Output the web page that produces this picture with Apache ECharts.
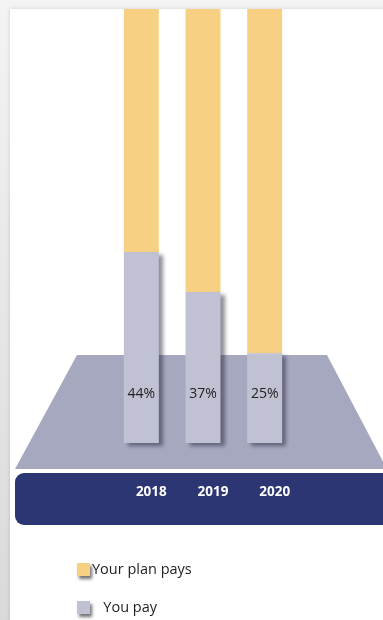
<!DOCTYPE html>
<html>
<head>
<meta charset="utf-8">
<script src="https://cdn.jsdelivr.net/npm/echarts@6/dist/echarts.min.js"></script>
<style>
html,body{margin:0;padding:0;background:#efefef;}
#chart{width:383px;height:620px;}
</style>
</head>
<body>
<div id="chart"></div>
<script>
// Data
var years = ['2018', '2019', '2020'];
var youPay = [44, 34.8, 20.7];          // visual bar heights (% of full column)
var youPayLabels = ['44%', '37%', '25%'];
var planPays = [56, 65.2, 79.3];
var seriesNames = ['Your plan pays', 'You pay'];

var chart = echarts.init(document.getElementById('chart'), null, {renderer: 'canvas'});

function legendFor(name, top, prefix) {
  return {
    orient: 'vertical', left: 72, top: top,
    itemWidth: 13, itemHeight: 13, icon: 'rect',
    data: [name],
    formatter: function (n) { return prefix + n; },
    textStyle: {fontFamily: 'Open Sans', fontSize: 14.5, color: '#1e1e1e', padding: [0, 0, 0, -3]},
    itemStyle: {shadowColor: 'rgba(0,0,0,0.55)', shadowBlur: 3, shadowOffsetX: 2, shadowOffsetY: 3}
  };
}

var option = {
  animation: false,
  backgroundColor: '#efefef',
  graphic: [
    { type: 'rect', z: -10, shape: {x: 0, y: 0, width: 383, height: 620},
      style: {fill: new echarts.graphic.LinearGradient(0, 0, 0, 1, [{offset: 0, color: '#f4f4f4'}, {offset: 1, color: '#dadada'}])} },
    { type: 'rect', z: -9, shape: {x: 10, y: 9, width: 380, height: 620},
      style: {fill: '#ffffff', shadowBlur: 4, shadowColor: 'rgba(0,0,0,0.15)'} },
    { type: 'polygon', z: -8, shape: {points: [[77, 355], [327, 355], [387, 469], [15, 469]]},
      style: {fill: '#a6a8bf'} },
    { type: 'rect', z: -8, shape: {x: 15, y: 473, width: 380, height: 52, r: 9},
      style: {fill: '#2b3673'} }
  ],
  grid: {left: 110.5, right: 87.5, top: 9, bottom: 177},
  xAxis: {
    type: 'category', data: years,
    axisLine: {show: false}, axisTick: {show: false},
    axisLabel: {
      margin: 42, color: '#ffffff', fontWeight: 'bold', fontSize: 13.5,
      fontFamily: 'Open Sans', padding: [0, 0, 0, 20]
    }
  },
  yAxis: {type: 'value', min: 0, max: 100, show: false, splitLine: {show: false}},
  legend: [
    legendFor(seriesNames[0], 557, ''),
    legendFor(seriesNames[1], 595, '   ')
  ],
  series: [
    {
      name: 'You pay', type: 'bar', stack: 'total', barWidth: 35, z: 3,
      data: youPay,
      itemStyle: {color: '#c0c2d4', shadowColor: 'rgba(30,30,50,0.5)', shadowBlur: 4, shadowOffsetX: 4, shadowOffsetY: 3},
      label: {
        show: true, position: 'insideBottom', distance: 42,
        formatter: function (p) { return youPayLabels[p.dataIndex]; },
        color: '#222222', fontSize: 14, fontFamily: 'Open Sans'
      }
    },
    {
      name: 'Your plan pays', type: 'bar', stack: 'total', barWidth: 35, z: 2,
      data: planPays,
      itemStyle: {color: '#f7d083'}
    }
  ]
};
chart.setOption(option);
</script>
</body>
</html>
